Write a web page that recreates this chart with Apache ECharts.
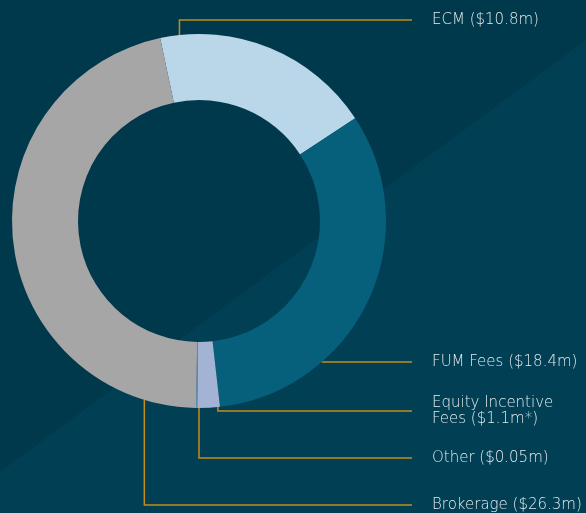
<!DOCTYPE html>
<html>
<head>
<meta charset="utf-8">
<script src="https://cdn.jsdelivr.net/npm/echarts@6/dist/echarts.min.js"></script>
<style>
html, body { margin: 0; padding: 0; background: #00394c; }
#chart { width: 586px; height: 513px; }
</style>
</head>
<body>
<div id="chart"></div>
<script>
// 数据
var categories = ['ECM', 'FUM Fees', 'Equity Incentive', 'Other', 'Brokerage'];
var values = [10.8, 18.4, 1.1, 0.05, 26.3];
var labels = ['ECM ($10.8m)', 'FUM Fees ($18.4m)', 'Equity Incentive\nFees ($1.1m*)', 'Other ($0.05m)', 'Brokerage ($26.3m)'];

var colors = ['#b9d7e9', '#06607c', '#a3b3d3', '#5b9fd0', '#a6a6a6'];

// 引线位置 (角度从正上方顺时针)
var cx = 199, cy = 221, rIn = 121, rOut = 187;
var leader = [
    {angle: -6, y: 20},
    {angle: 139, y: 362, flat: true},
    {angle: 174.2, y: 411},
    {angle: 180, y: 458},
    {angle: 197, y: 505}
];
var lineEnd = 412;
var labelX = 432;

var chart = echarts.init(document.getElementById('chart'));

var option = {
    backgroundColor: '#00394c',
    graphic: [{
        type: 'polygon',
        z: -10,
        silent: true,
        shape: {points: [[0, 472], [586, 40], [586, 513], [0, 513]]},
        style: {fill: '#003f54'}
    }],
    series: [{
        type: 'pie',
        center: [cx, cy],
        radius: [rIn, rOut],
        startAngle: 102,
        clockwise: true,
        animation: false,
        avoidLabelOverlap: false,
        data: categories.map(function(c, i) {
            return {name: c, value: values[i], itemStyle: {color: colors[i]}};
        }),
        label: {
            show: true,
            position: 'outside',
            formatter: function(p) { return labels[p.dataIndex]; },
            color: '#e4eaed',
            fontFamily: 'DejaVu Sans',
            fontWeight: 'lighter',
            fontSize: 15,
            lineHeight: 16
        },
        labelLine: {
            show: true,
            lineStyle: {color: '#c48d17', width: 1.5}
        },
        labelLayout: function(params) {
            var l = leader[params.dataIndex];
            var a = l.angle * Math.PI / 180;
            var ax = cx + rOut * Math.sin(a);
            var ay = cy - rOut * Math.cos(a);
            var pts;
            if (l.flat) {
                pts = [[ax, l.y], [ax, l.y], [lineEnd, l.y]];
            } else {
                pts = [[ax, ay], [ax, l.y], [lineEnd, l.y]];
            }
            return {
                x: labelX,
                y: l.y,
                align: 'left',
                verticalAlign: 'middle',
                labelLinePoints: pts
            };
        }
    }]
};

chart.setOption(option);
</script>
</body>
</html>
